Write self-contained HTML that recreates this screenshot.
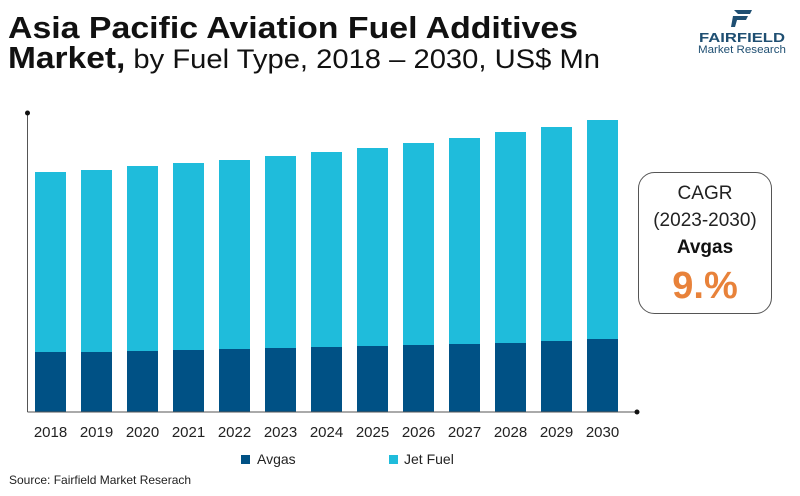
<!DOCTYPE html>
<html><head><meta charset="utf-8"><style>
body{margin:0;width:800px;height:491px;background:#fff;overflow:hidden;font-family:"Liberation Sans",sans-serif;}
</style></head><body>
<svg width="800" height="491" xmlns="http://www.w3.org/2000/svg">
<text x="8" y="38" font-size="31" font-weight="bold" fill="#111" textLength="570" lengthAdjust="spacingAndGlyphs">Asia Pacific Aviation Fuel Additives</text>
<text x="8" y="68" font-size="27" fill="#111" textLength="592" lengthAdjust="spacingAndGlyphs"><tspan font-weight="bold" font-size="31">Market,</tspan> by Fuel Type, 2018 – 2030, US$ Mn</text>
<g>
<path d="M734 10 L752 10 L750 14 L738 14 Z M733 16 L748 16 L746 20 L737 20 L735 27 L731 27 Z" fill="#1f4f72"/>
<text x="742" y="42" font-size="13" font-weight="bold" fill="#1f4f72" text-anchor="middle" textLength="86" lengthAdjust="spacingAndGlyphs">FAIRFIELD</text>
<text x="742" y="53" font-size="11" fill="#1f4f72" text-anchor="middle" textLength="88" lengthAdjust="spacingAndGlyphs">Market Research</text>
</g>
<g id="plot"></g>
<g>
<rect x="638.5" y="172.5" width="133" height="141" rx="16" fill="#fff" stroke="#555"/>
<text x="705" y="199" font-size="19" fill="#222" text-anchor="middle">CAGR</text>
<text x="705" y="226" font-size="19" fill="#222" text-anchor="middle">(2023-2030)</text>
<text x="705" y="253" font-size="19" font-weight="bold" fill="#111" text-anchor="middle">Avgas</text>
<text x="705" y="298" font-size="38" font-weight="bold" fill="#e8823a" text-anchor="middle">9.%</text>
</g>
<g>
<rect x="241" y="455" width="9" height="9" fill="#005185"/>
<text x="257" y="464" font-size="14" fill="#222">Avgas</text>
<rect x="389" y="455" width="9" height="9" fill="#1fbcdb"/>
<text x="404" y="464" font-size="14" fill="#222">Jet Fuel</text>
</g>
<text x="9" y="484" font-size="12" fill="#222">Source: Fairfield Market Reserach</text>
</svg>
<script>
const years=["2018","2019","2020","2021","2022","2023","2024","2025","2026","2027","2028","2029","2030"];
const avgas=[60,60,61,62,63,64,65,66,67,68,69,71,73];
const jetFuel=[180,182,185,187,189,192,195,198,202,206,211,214,219];
const NS="http://www.w3.org/2000/svg";
const g=document.getElementById('plot');
const x0=27.5,base=412,yTop=113,maxV=299;
function y(v){return base-(v/maxV)*(base-yTop);}
function xc(i){return 50.5+i*46;}
function mk(t,a){const e=document.createElementNS(NS,t);for(const k in a)e.setAttribute(k,a[k]);g.appendChild(e);return e;}
years.forEach((yr,i)=>{
 const w=31,x=xc(i)-w/2;
 const a=mk('rect',{x:x,y:y(avgas[i]),width:w,height:base-y(avgas[i]),fill:'#005185'});
 
 
 const tot=avgas[i]+jetFuel[i];
 const j=mk('rect',{x:x,y:y(tot),width:w,height:y(avgas[i])-y(tot),fill:'#1fbcdb'});
 
 
 const t=mk('text',{x:xc(i),y:437,'font-size':15,fill:'#222','text-anchor':'middle'});
 t.textContent=yr;
 
 
});
const ya=mk('line',{x1:x0,y1:yTop,x2:x0,y2:base,stroke:'#555','stroke-width':1});


const xa=mk('line',{x1:x0,y1:base,x2:637,y2:base,stroke:'#555','stroke-width':1});


const d1=mk('circle',{cx:x0,cy:yTop,r:2.5,fill:'#111'});


const d2=mk('circle',{cx:637,cy:base,r:2.5,fill:'#111'});


</script>
</body></html>
